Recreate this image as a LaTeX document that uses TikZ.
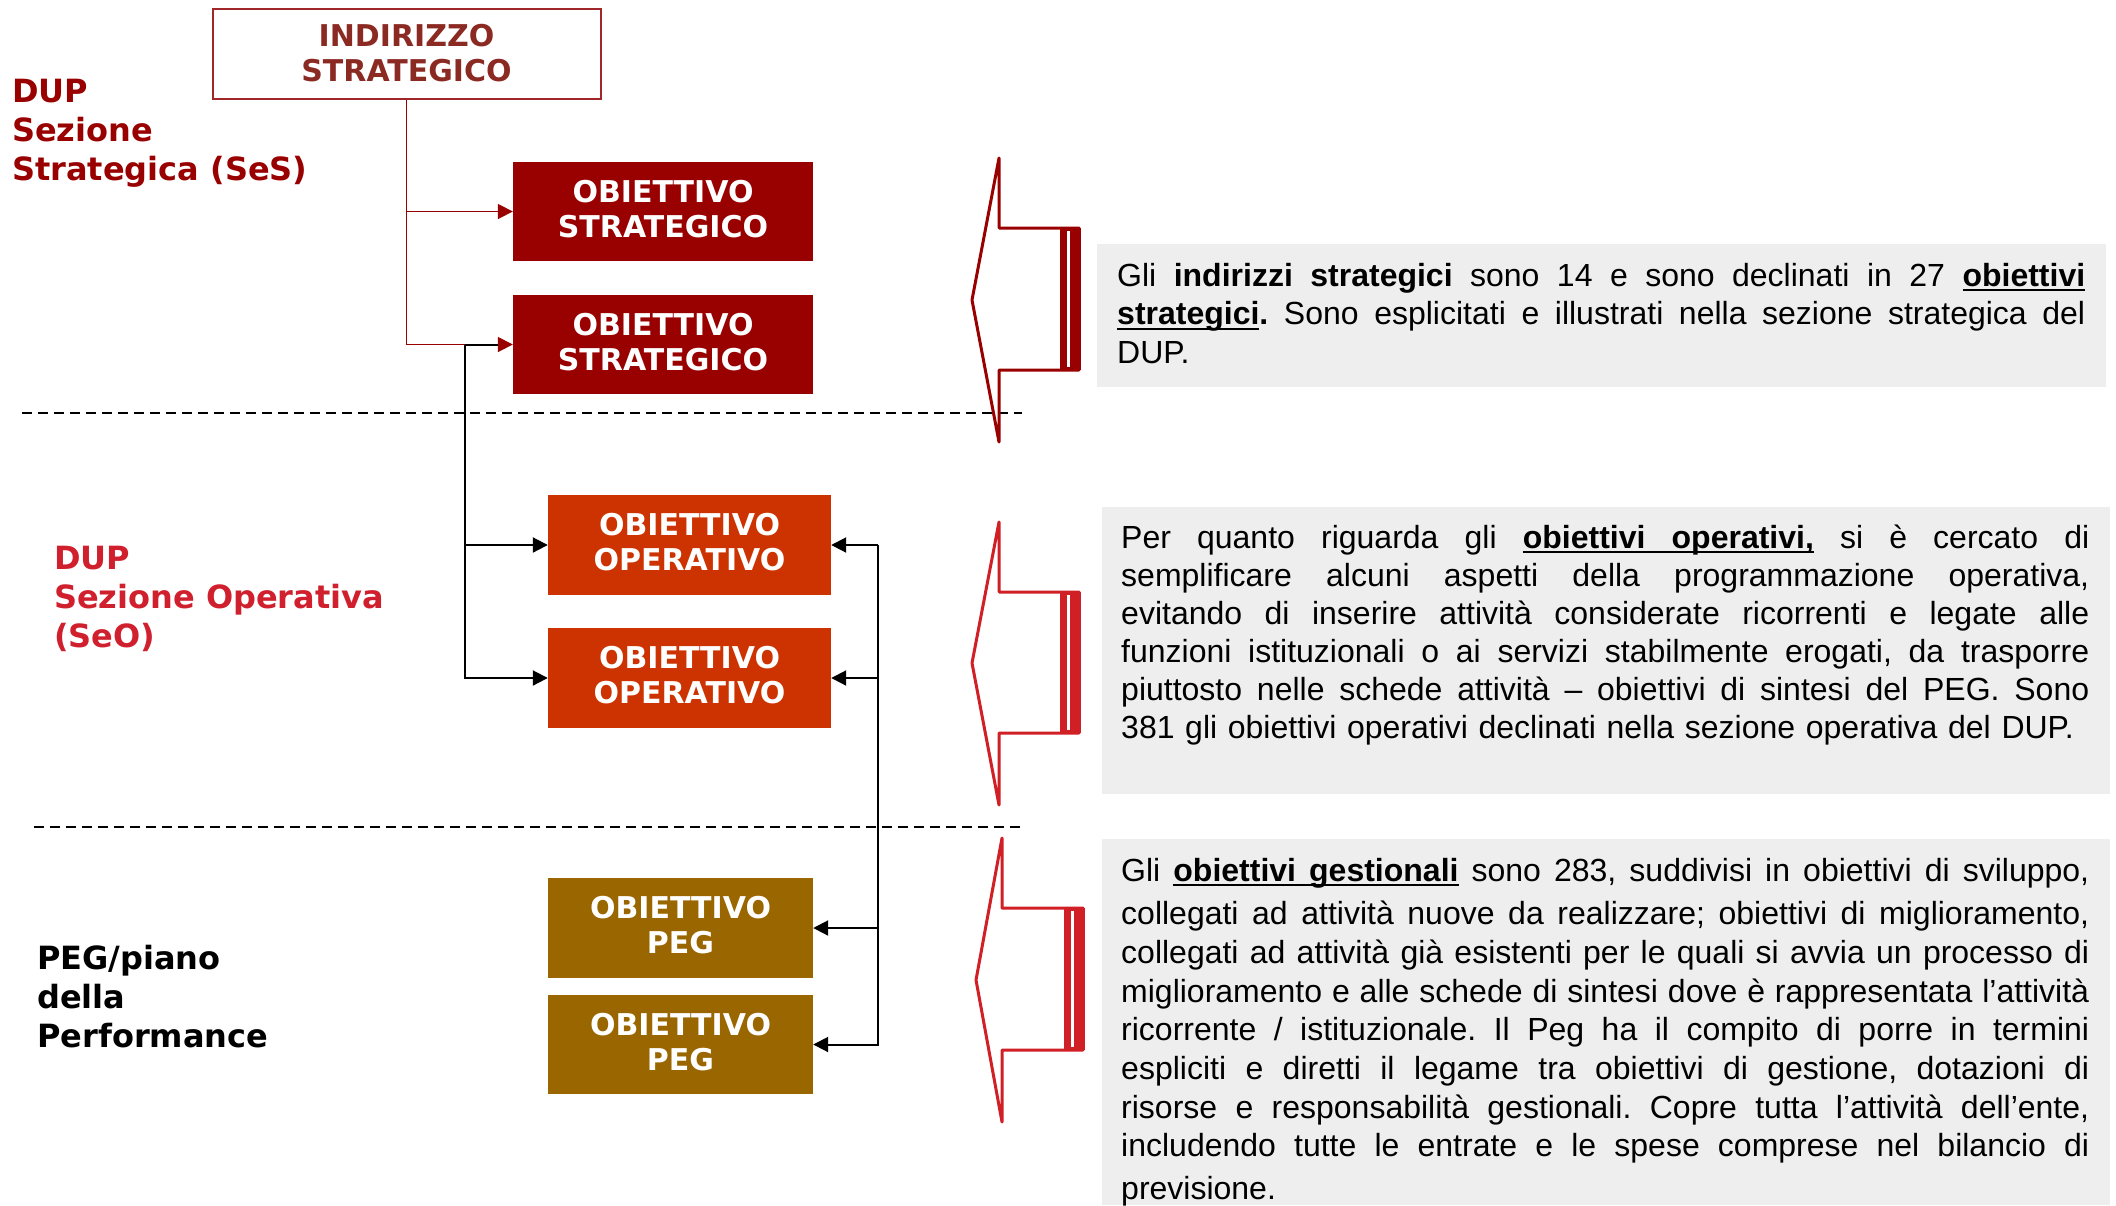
\documentclass[tikz,border=0pt]{standalone}
\usepackage{fontspec}
\setmainfont{Liberation Sans}
\newfontfamily\vfont{DejaVu Sans}
\usetikzlibrary{arrows.meta,calc}
\definecolor{dred}{HTML}{990000}
\definecolor{indtext}{HTML}{8B2A22}
\definecolor{indborder}{HTML}{A0262A}
\definecolor{opred}{HTML}{CC3300}
\definecolor{pegbrown}{HTML}{996600}
\definecolor{lred}{HTML}{D0202E}
\definecolor{arrred}{HTML}{D11F26}
\definecolor{graybg}{HTML}{EEEEEE}
\newcommand{\jl}[1]{\makebox[\linewidth][s]{\spaceskip=0pt\xspaceskip=0pt\frenchspacing #1}}
\newcommand{\lowstrut}{\rule[-6pt]{0pt}{0pt}}
\newsavebox\ulbox
\newcommand{\ulw}[1]{\sbox\ulbox{#1}\rlap{\vrule height -3pt depth 5pt width \wd\ulbox}\usebox\ulbox}
\newcommand{\ulsp}{\leaders\hrule height -3pt depth 5pt\hskip\fontdimen2\font plus\fontdimen3\font minus\fontdimen4\font}
\tikzset{
  objbox/.style={inner sep=0pt, align=center, text=white,
    font=\vfont\bfseries\fontsize{30}{35}\selectfont},
  lab/.style={anchor=base west, inner sep=0pt, align=left,
    font=\vfont\bfseries\fontsize{32}{39}\selectfont},
  body/.style={anchor=base west, inner sep=0pt, text width=968pt,
    font=\fontsize{32}{38}\selectfont\frenchspacing},
  graybox/.style={fill=graybg, draw=none, inner sep=0pt, anchor=north west},
  redline/.style={draw=dred, line width=1.8pt, -{Triangle[length=15pt,width=15pt]}},
  blkline/.style={draw=black, line width=2pt, -{Triangle[length=15pt,width=15pt]}},
  sepline/.style={draw=black, line width=2pt, dash pattern=on 10pt off 6pt},
  callout/.style={line width=3pt, line join=round, fill=white},
}
\begin{document}
\begin{tikzpicture}[x=1pt,y=-1pt]
\useasboundingbox (0,0) rectangle (2116,1205);

% separators
\draw[sepline] (22,413) -- (1022,413);
\draw[sepline] (34,827) -- (1022,827);

% left labels (anchored at the baseline of the last line)
\node[lab, text=dred] (ses) at (12,180) {DUP\\Sezione\\Strategica (SeS)};
\node[lab, text=lred] (seo) at (54,647) {DUP\\Sezione Operativa\\(SeO)};
\node[lab, text=black] (peg) at (37,1047) {PEG/piano\\della\\Performance};

% boxes
\node[objbox, draw=indborder, line width=2pt, fill=white, text=indtext,
  minimum width=388pt, minimum height=90pt] (ind) at (406.5,53.5) {INDIRIZZO\\STRATEGICO};
\node[objbox, fill=dred, minimum width=300pt, minimum height=99pt] (os1) at (663,211.5) {OBIETTIVO\\STRATEGICO\lowstrut};
\node[objbox, fill=dred, minimum width=300pt, minimum height=99pt] (os2) at (663,344.5) {OBIETTIVO\\STRATEGICO\lowstrut};
\node[objbox, fill=opred, minimum width=283pt, minimum height=100pt] (oo1) at (689.5,545) {OBIETTIVO\\OPERATIVO\lowstrut};
\node[objbox, fill=opred, minimum width=283pt, minimum height=100pt] (oo2) at (689.5,678) {OBIETTIVO\\OPERATIVO\lowstrut};
\node[objbox, fill=pegbrown, minimum width=265pt, minimum height=100pt] (pg1) at (680.5,928) {OBIETTIVO\\PEG\lowstrut};
\node[objbox, fill=pegbrown, minimum width=265pt, minimum height=99pt] (pg2) at (680.5,1044.5) {OBIETTIVO\\PEG\lowstrut};

% red connectors
\draw[redline] (ind.south) |- (os1.west);
\draw[redline] (ind.south) |- (os2.west);

% black connectors
\coordinate (bl) at (465,344.5);
\draw[draw=black, line width=2pt] (bl) -- ($(os2.west)+(-15,0)$);
\draw[blkline] (bl) |- (oo1.west);
\draw[blkline] (bl) |- (oo2.west);
\coordinate (br) at (878,545);
\draw[blkline] (br) -- (oo1.east);
\draw[blkline] (br) |- (oo2.east);
\draw[blkline] (br) |- (pg1.east);
\draw[blkline] (br) |- (pg2.east);

% callout arrows
\draw[callout, draw=dred] (999,158) -- (972,300) -- (999,442) -- (999,370) -- (1079,370) -- (1079,228) -- (999,228) -- cycle;
\fill[dred] (1060,228) rectangle (1080.5,370);
\fill[white] (1066.5,231) rectangle (1069.5,367);

\draw[callout, draw=arrred] (999,522) -- (972,663) -- (999,805) -- (999,733) -- (1079,733) -- (1079,592) -- (999,592) -- cycle;
\fill[arrred] (1060,592) rectangle (1080.5,733);
\fill[white] (1066.5,595) rectangle (1069.5,730);

\draw[callout, draw=arrred] (1002,838) -- (976,980) -- (1002,1122) -- (1002,1050) -- (1083,1050) -- (1083,908) -- (1002,908) -- cycle;
\fill[arrred] (1064,908) rectangle (1084.5,1050);
\fill[white] (1070.5,911) rectangle (1073.5,1047);

% gray text boxes
\node[graybox, minimum width=1009pt, minimum height=143pt] (g1) at (1097,244) {};
\node[graybox, minimum width=1008pt, minimum height=287pt] (g2) at (1102,507) {};
\node[graybox, minimum width=1008pt, minimum height=366pt] (g3) at (1102,839) {};

\node[body, font=\fontsize{32}{38.5}\selectfont\frenchspacing] (t1) at (1117,286) {%
\jl{Gli \textbf{indirizzi strategici} sono 14 e sono declinati in 27 \textbf{\ulw{obiettivi}}}\\
\jl{\textbf{\ulw{strategici}.} Sono esplicitati e illustrati nella sezione strategica del}\\
DUP.};

\node[body] (t2) at (1121,548) {%
\jl{Per quanto riguarda gli \textbf{\ulw{obiettivi}\ulsp\ulw{operativi,}} si è cercato di}\\
\jl{semplificare alcuni aspetti della programmazione operativa,}\\
\jl{evitando di inserire attività considerate ricorrenti e legate alle}\\
\jl{funzioni istituzionali o ai servizi stabilmente erogati, da trasporre}\\
\jl{piuttosto nelle schede attività – obiettivi di sintesi del PEG. Sono}\\
381 gli obiettivi operativi declinati nella sezione operativa del DUP.};

\node[body, font=\fontsize{32}{38.7}\selectfont\frenchspacing] (t3) at (1121,881) {%
\jl{Gli \textbf{\ulw{obiettivi}\ulsp\ulw{gestionali}} sono 283, suddivisi in obiettivi di sviluppo,}\\[5pt]
\jl{collegati ad attività nuove da realizzare; obiettivi di miglioramento,}\\
\jl{collegati ad attività già esistenti per le quali si avvia un processo di}\\
\jl{miglioramento e alle schede di sintesi dove è rappresentata l’attività}\\
\jl{ricorrente / istituzionale. Il Peg ha il compito di porre in termini}\\
\jl{espliciti e diretti il legame tra obiettivi di gestione, dotazioni di}\\
\jl{risorse e responsabilità gestionali. Copre tutta l’attività dell’ente,}\\
\jl{includendo tutte le entrate e le spese comprese nel bilancio di}\\[4pt]
previsione.};
\end{tikzpicture}
\end{document}
